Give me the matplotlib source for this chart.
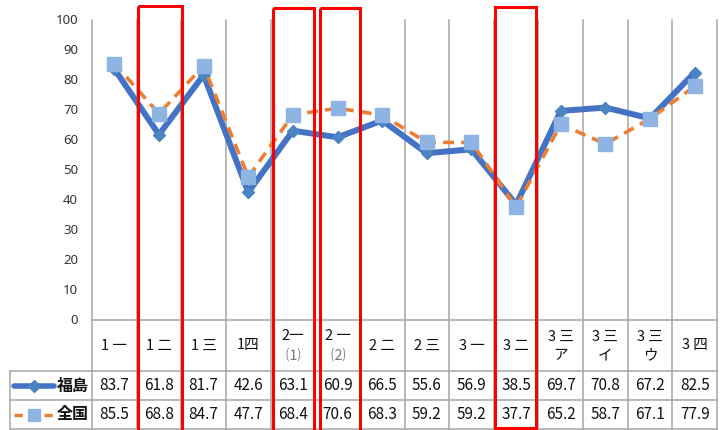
import matplotlib
matplotlib.use('Agg')

import matplotlib.pyplot as plt
from matplotlib.patches import Rectangle

plt.rcParams['font.family'] = ['Noto Sans CJK JP', 'DejaVu Sans']

categories = ['1 一', '1 二', '1 三', '1四', '2一\n⑴', '2 一\n⑵', '2 二', '2 三',
              '3 一', '3 二', '3 三\nア', '3 三\nイ', '3 三\nウ', '3 四']
fukushima = [83.7, 61.8, 81.7, 42.6, 63.1, 60.9, 66.5, 55.6, 56.9, 38.5, 69.7, 70.8, 67.2, 82.5]
zenkoku = [85.5, 68.8, 84.7, 47.7, 68.4, 70.6, 68.3, 59.2, 59.2, 37.7, 65.2, 58.7, 67.1, 77.9]
series_names = ['福島', '全国']
y_ticks = [0, 10, 20, 30, 40, 50, 60, 70, 80, 90, 100]

# red boxes in pixels: (left, right, top, bottom)
boxes = [(137.5, 181.5, 6, 434), (273, 314, 8, 434), (320, 360, 8, 434), (495, 536, 7, 428)]

W, H = 724, 430
grid_c = '#a6a6a6'
blue = '#4472c4'
diamond_c = '#4a85c2'
orange = '#ed7d31'
sq_c = '#8eb4e3'
txt_c = '#111111'

fig = plt.figure(figsize=(W / 100, H / 100), dpi=100)

# pixel frame of the plot area
px_l, px_r, px_t, px_b = 92, 717, 20, 320
ax = fig.add_axes([px_l / W, 1 - px_b / H, (px_r - px_l) / W, (px_b - px_t) / H])
n = len(categories)
x = [i + 0.5 for i in range(n)]
ax.plot(x, fukushima, color=blue, lw=4.3, marker='D', ms=6.5,
        mfc=diamond_c, mec=diamond_c, zorder=3)
ax.plot(x, zenkoku, color=orange, lw=2.6, ls=(0, (3, 2)), marker='s', ms=9.5,
        mfc=sq_c, mec=sq_c, zorder=4)
ax.set_xlim(0, n)
ax.set_ylim(0, 100)
ax.set_xticks([])
ax.set_yticks([])
for s in ax.spines.values():
    s.set_visible(False)
ax.patch.set_alpha(0)

# overlay in pixel coordinates for the grid, table and labels
ov = fig.add_axes([0, 0, 1, 1], zorder=-1)
ov.set_xlim(0, W)
ov.set_ylim(H, 0)
ov.axis('off')

col_w = (px_r - px_l) / n
row1, row2, row3, row4 = 320, 371, 400, 429

for i in range(n + 1):
    xx = px_l + i * col_w
    ov.plot([xx, xx], [px_t, row4], color=grid_c, lw=1.1)
ov.plot([px_l, px_r], [row1, row1], color=grid_c, lw=1.1)
for yy in (row2, row3, row4):
    ov.plot([10, px_r], [yy, yy], color=grid_c, lw=1.1)
ov.plot([10, 10], [row2, row4], color=grid_c, lw=1.1)

for v in y_ticks:
    yy = px_b - (px_b - px_t) * v / 100
    ov.text(78, yy, str(v), ha='right', va='center', fontsize=9.5,
            color='#333333', family=['Noto Sans', 'DejaVu Sans'])

for i, lab in enumerate(categories):
    cx = px_l + (i + 0.5) * col_w
    cy = (row1 + row2) / 2
    if '\n' in lab:
        top, bot = lab.split('\n')
        ov.text(cx, cy - 9, top, ha='center', va='center', fontsize=10.5, color=txt_c)
        bc = '#777777' if bot in ('⑴', '⑵') else txt_c
        ov.text(cx, cy + 10, bot, ha='center', va='center', fontsize=10.5, color=bc)
    else:
        ov.text(cx, cy, lab, ha='center', va='center', fontsize=10.5, color=txt_c)
    ov.text(cx, (row2 + row3) / 2, f'{fukushima[i]:.1f}', ha='center', va='center',
            fontsize=11, color=txt_c)
    ov.text(cx, (row3 + row4) / 2, f'{zenkoku[i]:.1f}', ha='center', va='center',
            fontsize=11, color=txt_c)

# legend keys in the first table column
ky1 = (row2 + row3) / 2
ky2 = (row3 + row4) / 2
ov.plot([14, 54], [ky1, ky1], color=blue, lw=4, solid_capstyle='round')
ov.plot([34], [ky1], marker='D', ms=6.5, color=diamond_c)
ov.plot([14, 54], [ky2, ky2], color=orange, lw=2.4, ls=(0, (2.5, 2)))
ov.plot([34], [ky2], marker='s', ms=9, color=sq_c)
ov.text(89, ky1, series_names[0], ha='right', va='center', fontsize=11.5,
        fontweight='bold', color=txt_c)
ov.text(89, ky2, series_names[1], ha='right', va='center', fontsize=11.5,
        fontweight='bold', color=txt_c)

# red boxes drawn on top of everything
top_ov = fig.add_axes([0, 0, 1, 1], zorder=10)
top_ov.set_xlim(0, W)
top_ov.set_ylim(H, 0)
top_ov.axis('off')
for x0, x1, t, b in boxes:
    top_ov.add_patch(Rectangle((x0, t), x1 - x0, b - t, fill=False,
                               ec='#ff0000', lw=2.2, clip_on=False))

fig.savefig('out.png', dpi=100)
